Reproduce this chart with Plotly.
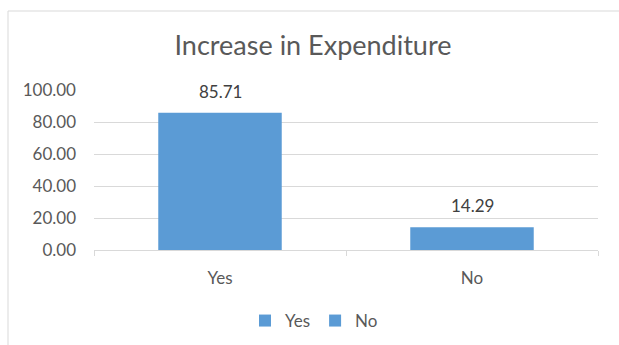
import plotly.graph_objects as go

categories = ["Yes", "No"]
values = [85.71, 14.29]
series_names = ["Yes", "No"]
y_ticks = [0, 20, 40, 60, 80, 100]

BAR = "#5b9bd5"
TXT = "#595959"
FONT = "Lato"

L, R, T, B = 94, 21, 90, 95
W, H = 619, 345
pw, ph = W - L - R, H - T - B

def px_x(x):
    return (x - L) / pw

def px_y(y):
    return (H - B - y) / ph

fig = go.Figure()
for cat, val, name in zip(categories, values, series_names):
    fig.add_trace(go.Bar(
        x=[cat], y=[val], name=name,
        marker=dict(color=BAR, line=dict(width=0)),
        width=0.49,
    ))
    fig.add_annotation(x=cat, y=val, xref="x", yref="y", text=f"{val:.2f}",
                       showarrow=False, yanchor="bottom", yshift=9,
                       font=dict(family=FONT, size=17, color="#404040"))

fig.update_layout(
    width=W, height=H,
    margin=dict(l=L, r=R, t=T, b=B, autoexpand=False),
    paper_bgcolor="white", plot_bgcolor="white",
    barmode="overlay",
    font=dict(family=FONT, color=TXT),
    title=dict(text="Increase in Expenditure", x=313 / W, xref="container", xanchor="center",
               y=1 - 46 / H, yref="container", yanchor="middle",
               font=dict(family=FONT, size=27, color=TXT)),
    showlegend=True,
    legend=dict(orientation="h", x=px_x(314), xanchor="center", y=px_y(321), yanchor="middle",
                font=dict(family=FONT, size=17, color=TXT), itemwidth=30, traceorder="normal"),
    xaxis=dict(categoryorder="array", categoryarray=categories, automargin=False,
               showline=True, linecolor="#d9d9d9", linewidth=1,
               ticks="outside", tickson="boundaries", ticklen=5, tickcolor="#d9d9d9",
               ticklabelstandoff=13,
               tickfont=dict(family=FONT, size=17, color=TXT), showgrid=False),
    yaxis=dict(range=[0, 100], tickvals=y_ticks, tickformat=".2f", automargin=False,
               showgrid=True, gridcolor="#d9d9d9", gridwidth=1, zeroline=False,
               showline=False, ticks="", ticklabelstandoff=17,
               tickfont=dict(family=FONT, size=17, color=TXT)),
    shapes=[dict(type="rect", xref="paper", yref="paper",
                 x0=px_x(8), x1=px_x(640), y0=px_y(360), y1=px_y(11),
                 line=dict(color="#d9d9d9", width=1), fillcolor="rgba(0,0,0,0)", layer="below")],
)

fig.write_html("out.html")
